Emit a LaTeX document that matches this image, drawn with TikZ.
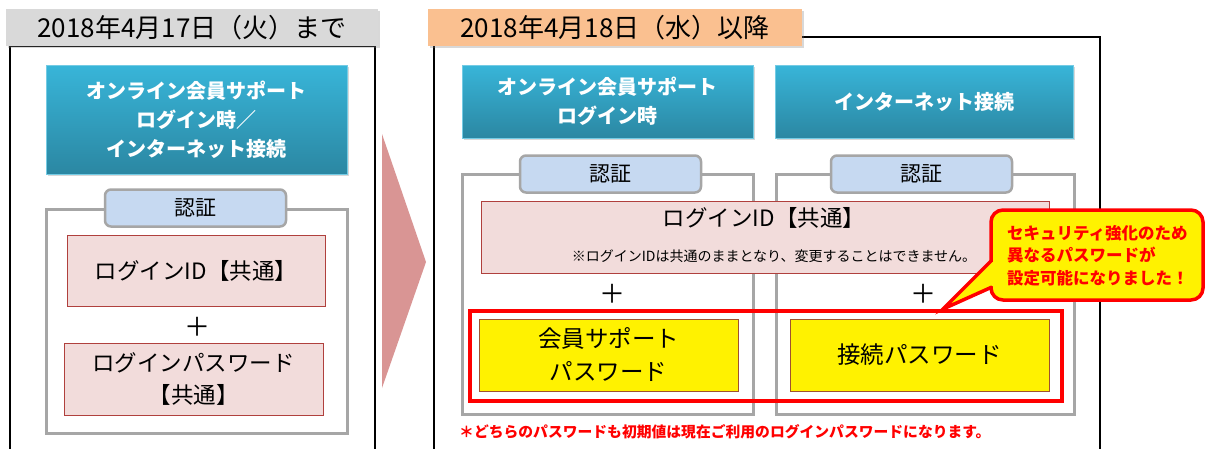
\documentclass[tikz,border=0pt]{standalone}
\usepackage{fontspec}
\setmainfont{Noto Sans CJK JP}
\usetikzlibrary{shadows}
\definecolor{hdrgray}{HTML}{D9D9D9}
\definecolor{hdrorange}{HTML}{FAC090}
\definecolor{bluetop}{HTML}{38B5D9}
\definecolor{bluebot}{HTML}{2B87A2}
\definecolor{framegray}{HTML}{A6A6A6}
\definecolor{authblue}{HTML}{C6D9F1}
\definecolor{pinkfill}{HTML}{F2DCDB}
\definecolor{pinkedge}{HTML}{B0403D}
\definecolor{chev}{HTML}{D99594}
\definecolor{yedge}{HTML}{A0522D}
\definecolor{alertred}{HTML}{FF0000}
\tikzset{
  header/.style={inner sep=0pt, minimum height=37pt, font=\fontsize{26}{30}\selectfont,
    drop shadow={opacity=0.3, shadow xshift=2pt, shadow yshift=-2pt}},
  bluebox/.style={inner sep=0pt, top color=bluetop, bottom color=bluebot, draw=bluetop!70!white,
    line width=0.5pt, text=white, align=center, font=\bfseries\fontsize{20}{29}\selectfont,
    drop shadow={opacity=0.3, shadow xshift=2pt, shadow yshift=-2pt}},
  authframe/.style={draw=framegray, line width=3pt},
  authlabel/.style={fill=authblue, draw=framegray, line width=2.5pt, rounded corners=6pt,
    minimum width=181pt, minimum height=37pt, inner sep=0pt, font=\fontsize{21}{24}\selectfont},
  pinkbox/.style={fill=pinkfill, draw=pinkedge, line width=0.9pt, inner sep=0pt, align=center,
    font=\fontsize{22.5}{32}\selectfont},
  yellowbox/.style={fill=yellow, draw=yedge, line width=0.9pt, inner sep=0pt, align=center,
    minimum width=259pt, minimum height=72pt, font=\fontsize{23.5}{33}\selectfont},
  plussign/.style={inner sep=0pt, font=\fontsize{26}{26}\selectfont},
  outerframe/.style={draw=black, line width=1.2pt},
}
\begin{document}
\begin{tikzpicture}[x=1pt, y=-1pt]
\useasboundingbox (0,0) rectangle (1206,448);
\fill[white] (0,0) rectangle (1206,448);

% outer frames
\draw[outerframe] (10,450) -- (10,46) -- (375,46) -- (375,450);
\draw[outerframe] (434,450) -- (434,37) -- (1100,37) -- (1100,450);

% headers
\node[header, fill=hdrgray, minimum width=372pt] (hdrL) at (192,27.5) {2018年4月17日（火）まで};
\node[header, fill=hdrorange, minimum width=374pt] (hdrR) at (615,27.5) {2018年4月18日（水）以降};

% left column
\node[bluebox, minimum width=301pt, minimum height=109pt] (blueL) at (196.5,119.5)
  {オンライン会員サポート\\ログイン時／\\インターネット接続};
\draw[authframe] (46,209) rectangle (347,433);
\node[authlabel] (authL) at (195.5,208) {認証};
\node[pinkbox, minimum width=258pt, minimum height=71pt] (idL) at (196,270.5) {ログインID【共通】};
\node[plussign] (plusL) at (197,327) {＋};
\node[pinkbox, minimum width=259pt, minimum height=72pt] (pwL) at (193.5,379) {ログインパスワード\\【共通】};

% chevron
\fill[chev] (382,134) -- (426,262) -- (382,388) -- cycle;

% right columns
\node[bluebox, minimum width=291pt, minimum height=73pt] (blue2) at (607.5,101.5)
  {オンライン会員サポート\\ログイン時};
\node[bluebox, minimum width=298pt, minimum height=73pt] (blue3) at (924,101.5) {インターネット接続};
\draw[authframe] (462,174) rectangle (753,414);
\draw[authframe] (776,174) rectangle (1074,414);
\node[authlabel] (auth2) at (610.5,174) {認証};
\node[authlabel] (auth3) at (921.5,174) {認証};

\node[pinkbox, minimum width=568pt, minimum height=72pt] (idR) at (765,237) {};
\node[inner sep=0pt, font=\fontsize{22.5}{26}\selectfont] (idRtext) at (764,218) {ログインID【共通】};
\node[inner sep=0pt, font=\fontsize{14}{16}\selectfont] (idRnote) at (774,256)
  {※ログインIDは共通のままとなり、変更することはできません。};

\node[plussign] (plus2) at (612,294) {＋};
\node[plussign] (plus3) at (923,294) {＋};

\node[draw=alertred, line width=4pt, minimum width=592pt, minimum height=90pt, inner sep=0pt] (redbox) at (766,356) {};
\node[yellowbox] (yA) at (608.5,355) {会員サポート\\パスワード};
\node[yellowbox] (yB) at (919.5,355) {接続パスワード};

\node[anchor=west, inner sep=0pt, text=alertred, font=\bfseries\fontsize{14.8}{17}\selectfont] (foot) at (459,432)
  {＊どちらのパスワードも初期値は現在ご利用のログインパスワードになります。};

% callout
\node[draw=alertred, fill=yellow, line width=3.5pt, rounded corners=12pt, minimum width=212pt,
  minimum height=90pt, inner sep=0pt] (callout) at (1097,255) {};
\coordinate (tip) at (943,309);
\fill[yellow] (991,262) -- (tip) -- (991,286) -- (996,286) -- (996,262) -- cycle;
\draw[alertred, line width=3.5pt, line join=miter] (991,261) -- (tip) -- (992,287);
\node[anchor=west, inner sep=0pt, align=left, text=alertred, font=\bfseries\fontsize{16.5}{22.5}\selectfont] (calltext) at (1007,255.5)
  {セキュリティ強化のため\\異なるパスワードが\\設定可能になりました！};
\end{tikzpicture}
\end{document}
